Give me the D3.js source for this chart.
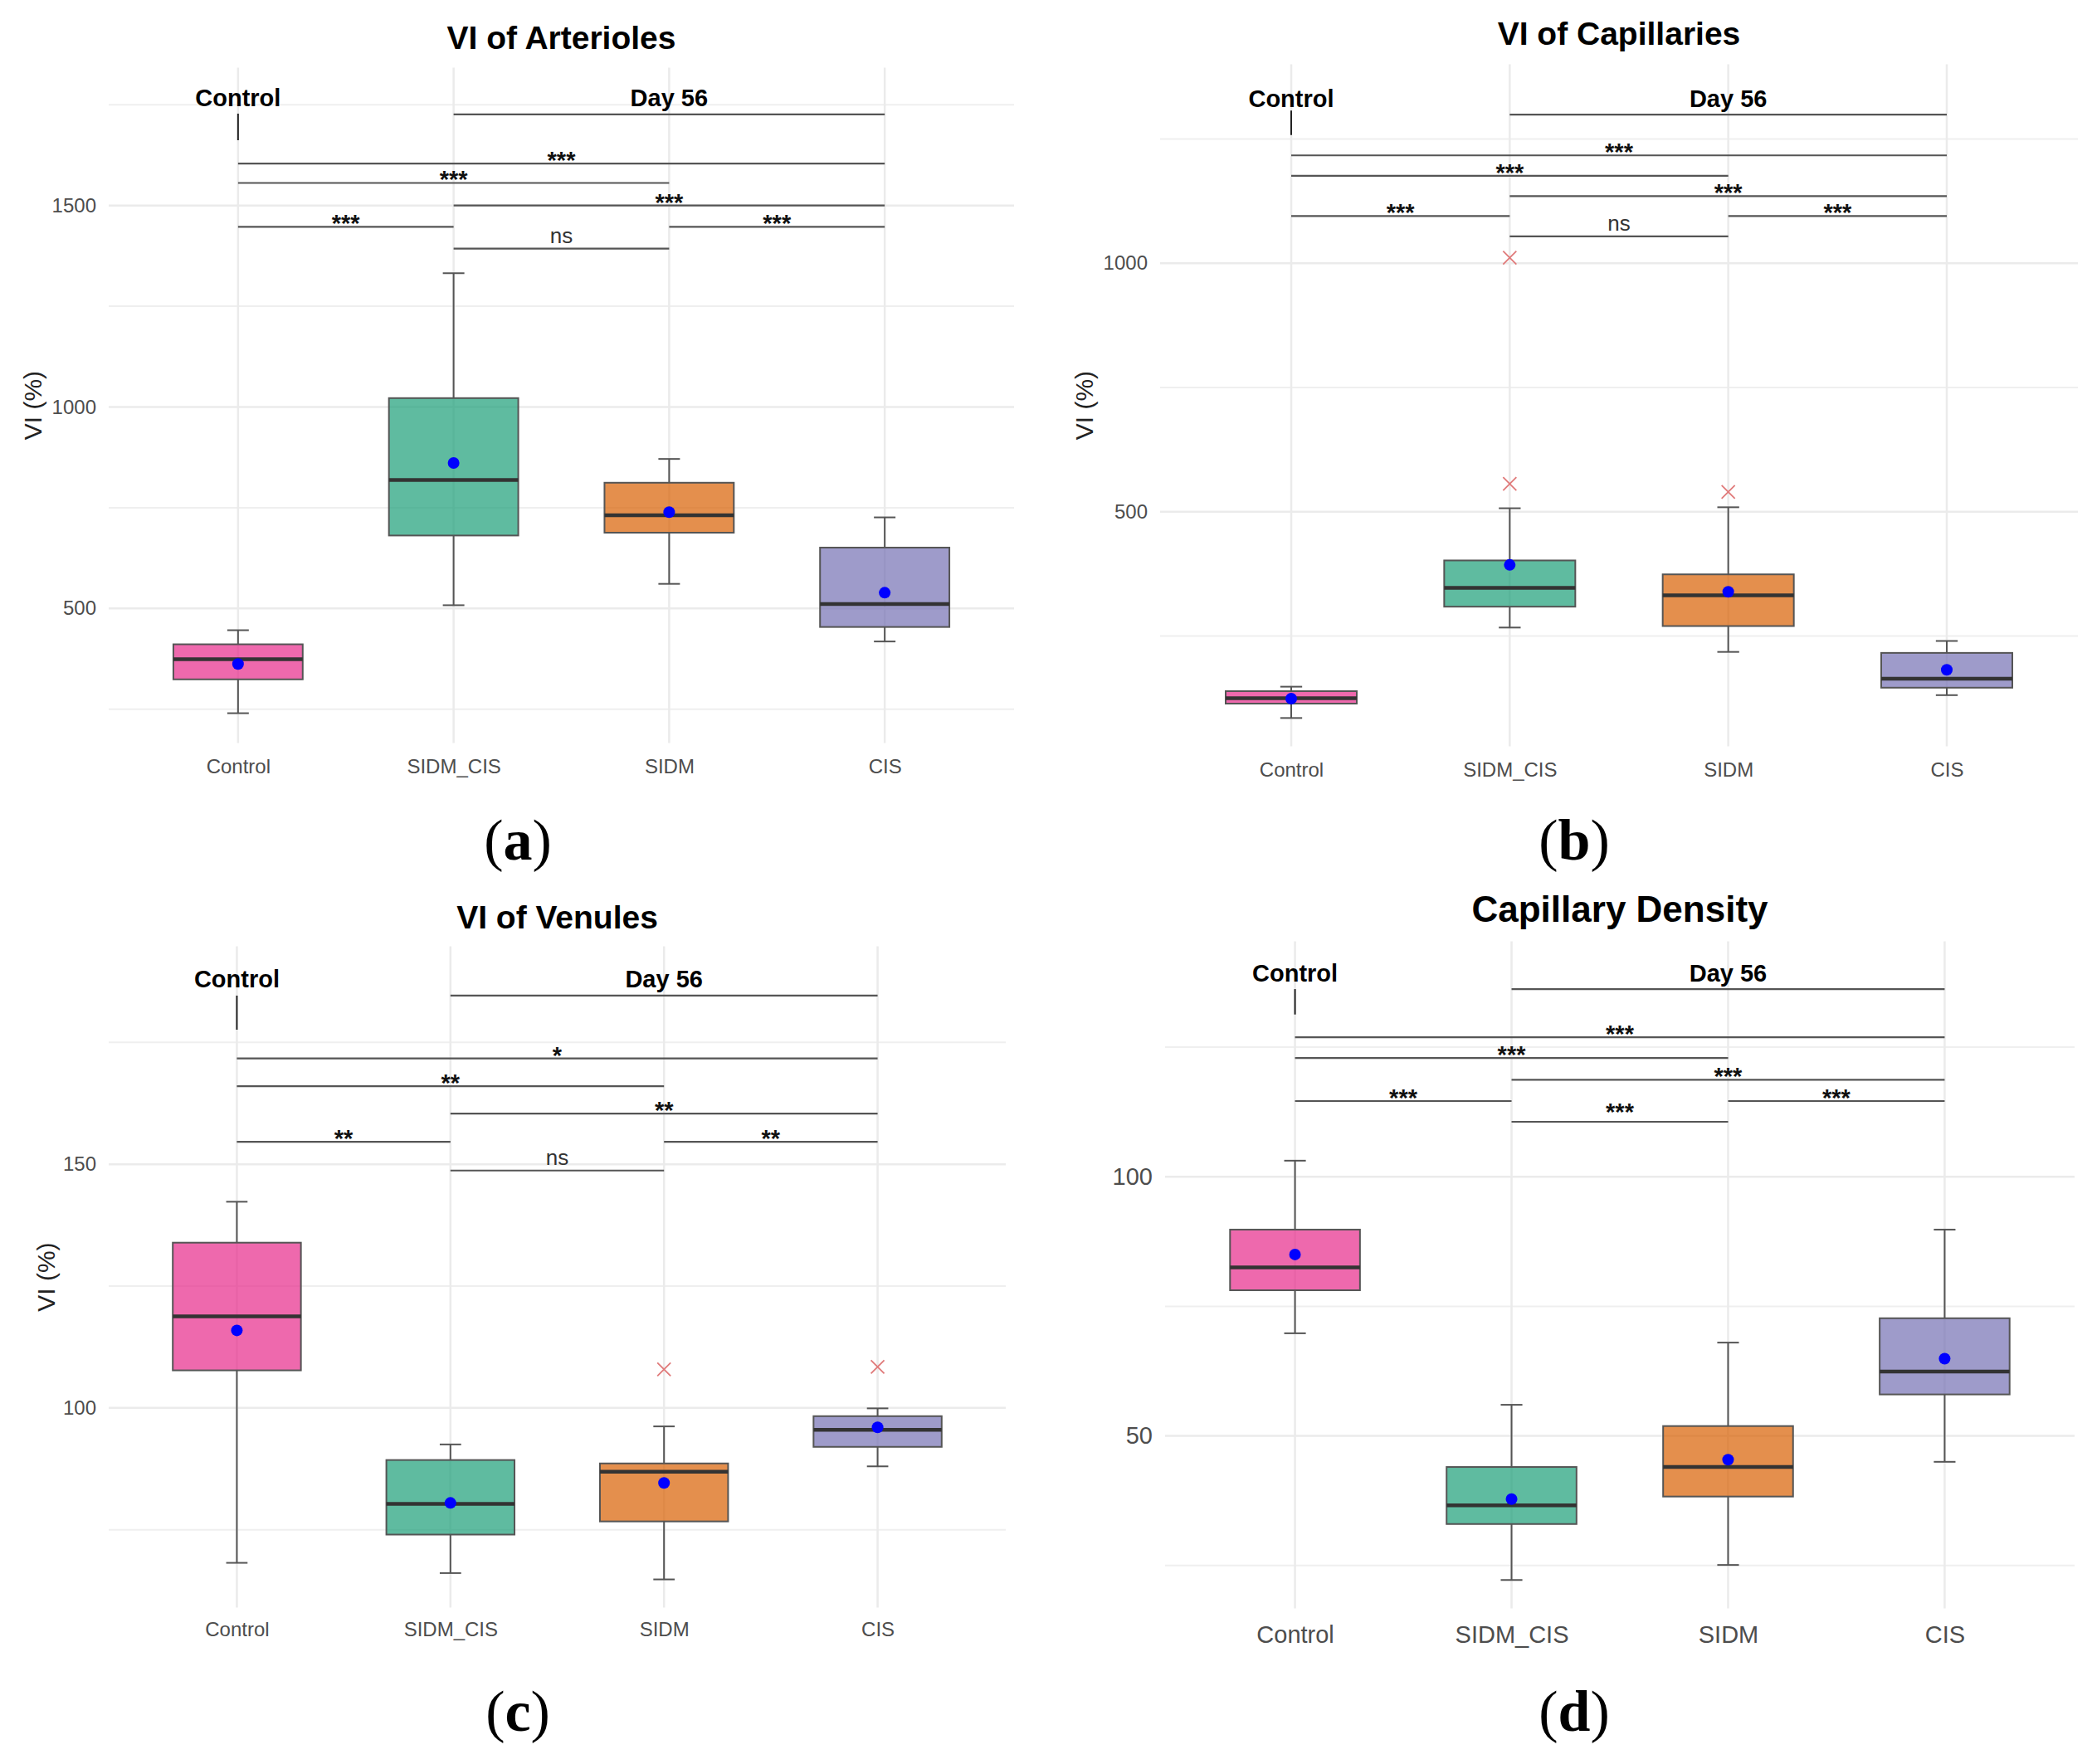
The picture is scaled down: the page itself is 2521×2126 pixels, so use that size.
<!DOCTYPE html>
<html>
<head>
<meta charset="utf-8">
<script src="https://cdn.jsdelivr.net/npm/d3@7"></script>
<style>
  body { margin: 0; background: #fff; }
  svg text { font-family: "Liberation Sans", Arial, Helvetica, sans-serif; }
</style>
</head>
<body>
<svg id="fig" width="2521" height="2126"></svg>
<script>
// groups and fill colours (Dark2, drawn at 70% opacity)
var groups = ["Control", "SIDM_CIS", "SIDM", "CIS"];
var groupColors = ["#E7298A", "#1B9E77", "#D95F02", "#7570B3"];

// box stats per group: [lower whisker, Q1, median, Q3, upper whisker]
var arteriolesBox = [[240, 324, 374, 411, 446], [508, 681, 819, 1022, 1332], [561, 688, 731, 812, 871], [418, 454, 511, 651, 726]];
var arteriolesMean = [362, 861, 739, 539];
var arteriolesOut = [[], [], [], []];
var arteriolesTicks = [500, 1000, 1500];
var arteriolesMinor = [250, 750, 1250, 1750];

var capillariesBox = [[85, 114, 125, 139, 148], [267, 309, 347, 402, 507], [218, 270, 332, 374, 509], [131, 146, 164, 216, 240]];
var capillariesMean = [124, 393, 339, 182];
var capillariesOut = [[], [556, 1011], [540], []];
var capillariesTicks = [500, 1000];
var capillariesMinor = [250, 750, 1250];

var venulesBox = [[68.2, 107.7, 118.8, 133.9, 142.3], [66.1, 74.0, 80.3, 89.3, 92.5], [64.8, 76.7, 86.9, 88.6, 96.2], [88.0, 92.0, 95.5, 98.3, 99.9]];
var venulesMean = [115.9, 80.5, 84.6, 96.0];
var venulesOut = [[], [], [107.9], [108.4]];
var venulesTicks = [100, 150];
var venulesMinor = [75, 125, 175];

var densityBox = [[69.8, 78.1, 82.5, 89.8, 103.1], [22.2, 33.0, 36.6, 44.0, 56.0], [25.1, 38.3, 44.0, 51.9, 68.0], [45.0, 58.0, 62.4, 72.7, 89.8]];
var densityMean = [85.0, 37.8, 45.4, 64.9];
var densityOut = [[], [], [], []];
var densityTicks = [50, 100];
var densityMinor = [25, 75, 125];

// significance brackets: [from, to, level, label]
var arteriolesSig = [["Control", "CIS", 1604, "***"], ["Control", "SIDM", 1556, "***"], ["SIDM_CIS", "CIS", 1500, "***"],
  ["Control", "SIDM_CIS", 1447, "***"], ["SIDM", "CIS", 1447, "***"], ["SIDM_CIS", "SIDM", 1393, "ns"]];
var capillariesSig = [["Control", "CIS", 1217, "***"], ["Control", "SIDM", 1176, "***"], ["SIDM_CIS", "CIS", 1135, "***"],
  ["Control", "SIDM_CIS", 1095, "***"], ["SIDM", "CIS", 1095, "***"], ["SIDM_CIS", "SIDM", 1054, "ns"]];
var venulesSig = [["Control", "CIS", 171.7, "*"], ["Control", "SIDM", 166.0, "**"], ["SIDM_CIS", "CIS", 160.4, "**"],
  ["Control", "SIDM_CIS", 154.6, "**"], ["SIDM", "CIS", 154.6, "**"], ["SIDM_CIS", "SIDM", 148.7, "ns"]];
var densitySig = [["Control", "CIS", 126.9, "***"], ["Control", "SIDM", 122.9, "***"], ["SIDM_CIS", "CIS", 118.7, "***"],
  ["Control", "SIDM_CIS", 114.6, "***"], ["SIDM", "CIS", 114.6, "***"], ["SIDM_CIS", "SIDM", 110.6, "***"]];

// "Day 56" line level, then top and bottom of the Control tick
var arteriolesTime = [1726, 1728, 1662];
var capillariesTime = [1299, 1307, 1258];
var venulesTime = [184.6, 184.6, 177.6];
var densityTime = [136.2, 136.2, 131.3];

var svg = d3.select("#fig");

var panels = [
  {title: "VI of Arterioles", tag: "a", box: arteriolesBox, mean: arteriolesMean, out: arteriolesOut,
   ticks: arteriolesTicks, minor: arteriolesMinor, sig: arteriolesSig, time: arteriolesTime, ytitle: "VI (%)",
   left: 131, right: 1222, top: 81.6, bottom: 895.5, domain: [166, 1842],
   titleY: 58.5, titleSize: 39, tickSize: 24, xSize: 24, xPad: 19, ytitleX: 39, tagX: 624, tagY: 1036},
  {title: "VI of Capillaries", tag: "b", box: capillariesBox, mean: capillariesMean, out: capillariesOut,
   ticks: capillariesTicks, minor: capillariesMinor, sig: capillariesSig, time: capillariesTime, ytitle: "VI (%)",
   left: 1398, right: 2504, top: 77.6, bottom: 899.5, domain: [28, 1400],
   titleY: 54, titleSize: 39, tickSize: 24, xSize: 24, xPad: 19, ytitleX: 1306, tagX: 1897, tagY: 1036},
  {title: "VI of Venules", tag: "c", box: venulesBox, mean: venulesMean, out: venulesOut,
   ticks: venulesTicks, minor: venulesMinor, sig: venulesSig, time: venulesTime, ytitle: "VI (%)",
   left: 131, right: 1212, top: 1140.6, bottom: 1937.6, domain: [59, 194.7],
   titleY: 1118.5, titleSize: 39, tickSize: 24, xSize: 24, xPad: 17, ytitleX: 55, tagX: 624, tagY: 2086},
  {title: "Capillary Density", tag: "d", box: densityBox, mean: densityMean, out: densityOut,
   ticks: densityTicks, minor: densityMinor, sig: densitySig, time: densityTime, ytitle: null,
   left: 1404, right: 2500, top: 1134.6, bottom: 1938.6, domain: [16.7, 145.4],
   titleY: 1110.5, titleSize: 44, tickSize: 29, xSize: 29, xPad: 21, ytitleX: 0, tagX: 1897, tagY: 2086}
];

panels.forEach(drawPanel);

function drawPanel(p) {
  var g = svg.append("g");
  var x = d3.scalePoint().domain(groups).range([p.left, p.right]).padding(0.6);
  var y = d3.scaleLinear().domain(p.domain).range([p.bottom, p.top]);
  var step = x.step(), bw = step * 0.6, cap = step * 0.1;

  // grid
  g.selectAll(".minor").data(p.minor).enter().append("line")
    .attr("x1", p.left).attr("x2", p.right)
    .attr("y1", function(d) { return y(d); }).attr("y2", function(d) { return y(d); })
    .attr("stroke", "#efefef").attr("stroke-width", 2);
  g.selectAll(".major").data(p.ticks).enter().append("line")
    .attr("x1", p.left).attr("x2", p.right)
    .attr("y1", function(d) { return y(d); }).attr("y2", function(d) { return y(d); })
    .attr("stroke", "#ebebeb").attr("stroke-width", 2.5);
  g.selectAll(".vgrid").data(groups).enter().append("line")
    .attr("x1", function(d) { return x(d); }).attr("x2", function(d) { return x(d); })
    .attr("y1", p.top).attr("y2", p.bottom)
    .attr("stroke", "#ebebeb").attr("stroke-width", 2.5);

  // axes
  var ya = g.append("g").attr("transform", "translate(" + p.left + ",0)")
    .call(d3.axisLeft(y).tickValues(p.ticks).tickFormat(d3.format("d")).tickSize(0).tickPadding(15));
  ya.select(".domain").remove();
  ya.attr("font-family", null).attr("font-size", null);
  ya.selectAll("text").attr("font-size", p.tickSize).attr("fill", "#4d4d4d");

  var xa = g.append("g").attr("transform", "translate(0," + p.bottom + ")")
    .call(d3.axisBottom(x).tickSize(0).tickPadding(p.xPad));
  xa.select(".domain").remove();
  xa.attr("font-family", null).attr("font-size", null);
  xa.selectAll("text").attr("font-size", p.xSize).attr("fill", "#4d4d4d");

  // boxes
  var b = g.selectAll(".box").data(p.box).enter().append("g");
  b.append("line").attr("class", "whisker")
    .attr("x1", function(d, i) { return x(groups[i]); }).attr("x2", function(d, i) { return x(groups[i]); })
    .attr("y1", function(d) { return y(d[0]); }).attr("y2", function(d) { return y(d[1]); });
  b.append("line").attr("class", "whisker")
    .attr("x1", function(d, i) { return x(groups[i]); }).attr("x2", function(d, i) { return x(groups[i]); })
    .attr("y1", function(d) { return y(d[3]); }).attr("y2", function(d) { return y(d[4]); });
  b.append("line").attr("class", "whisker")
    .attr("x1", function(d, i) { return x(groups[i]) - cap / 2; }).attr("x2", function(d, i) { return x(groups[i]) + cap / 2; })
    .attr("y1", function(d) { return y(d[0]); }).attr("y2", function(d) { return y(d[0]); });
  b.append("line").attr("class", "whisker")
    .attr("x1", function(d, i) { return x(groups[i]) - cap / 2; }).attr("x2", function(d, i) { return x(groups[i]) + cap / 2; })
    .attr("y1", function(d) { return y(d[4]); }).attr("y2", function(d) { return y(d[4]); });
  b.selectAll(".whisker").attr("stroke", "#555").attr("stroke-width", 2);

  b.append("rect")
    .attr("x", function(d, i) { return x(groups[i]) - bw / 2; })
    .attr("width", bw)
    .attr("y", function(d) { return y(d[3]); })
    .attr("height", function(d) { return y(d[1]) - y(d[3]); })
    .attr("fill", function(d, i) { return groupColors[i]; }).attr("fill-opacity", 0.7)
    .attr("stroke", "#555").attr("stroke-width", 2);
  b.append("line")
    .attr("x1", function(d, i) { return x(groups[i]) - bw / 2; }).attr("x2", function(d, i) { return x(groups[i]) + bw / 2; })
    .attr("y1", function(d) { return y(d[2]); }).attr("y2", function(d) { return y(d[2]); })
    .attr("stroke", "#333").attr("stroke-width", 4.5);

  // outliers as crosses
  p.out.forEach(function(vals, i) {
    g.selectAll(null).data(vals).enter().append("path")
      .attr("d", function(v) {
        var cx = x(groups[i]), cy = y(v), r = 8;
        return "M" + (cx - r) + "," + (cy - r) + "L" + (cx + r) + "," + (cy + r) +
               "M" + (cx - r) + "," + (cy + r) + "L" + (cx + r) + "," + (cy - r);
      })
      .attr("stroke", "#e07a7a").attr("stroke-width", 1.8).attr("fill", "none");
  });

  // means
  g.selectAll(".mean").data(p.mean).enter().append("circle")
    .attr("cx", function(d, i) { return x(groups[i]); })
    .attr("cy", function(d) { return y(d); })
    .attr("r", 7).attr("fill", "#0000ff");

  // significance brackets
  g.selectAll(".sig").data(p.sig).enter().append("line")
    .attr("x1", function(d) { return x(d[0]); }).attr("x2", function(d) { return x(d[1]); })
    .attr("y1", function(d) { return y(d[2]); }).attr("y2", function(d) { return y(d[2]); })
    .attr("stroke", "#555").attr("stroke-width", 2.2);
  g.selectAll(".sigLabel").data(p.sig).enter().append("text")
    .attr("x", function(d) { return (x(d[0]) + x(d[1])) / 2; })
    .attr("y", function(d) {
      var lowest = d[0] === "SIDM_CIS" && d[1] === "SIDM";
      if (d[3] === "ns") return y(d[2]) - 7;
      return y(d[2]) + (lowest ? -2 : 6);
    })
    .attr("text-anchor", "middle")
    .attr("font-size", function(d) { return d[3] === "ns" ? 26 : 29; })
    .attr("font-weight", function(d) { return d[3] === "ns" ? "normal" : "bold"; })
    .attr("fill", function(d) { return d[3] === "ns" ? "#333" : "#111"; })
    .text(function(d) { return d[3]; });

  // time groups
  g.append("line")
    .attr("x1", x("SIDM_CIS")).attr("x2", x("CIS"))
    .attr("y1", y(p.time[0])).attr("y2", y(p.time[0]))
    .attr("stroke", "#555").attr("stroke-width", 2.2);
  g.append("line")
    .attr("x1", x("Control")).attr("x2", x("Control"))
    .attr("y1", y(p.time[1])).attr("y2", y(p.time[2]))
    .attr("stroke", "#222").attr("stroke-width", 2);
  g.selectAll(".timeLabel").data([["Control", "Control"], ["SIDM", "Day 56"]]).enter().append("text")
    .attr("x", function(d) { return x(d[0]); })
    .attr("y", y(p.time[0]) - 9.5)
    .attr("text-anchor", "middle").attr("font-size", 29).attr("font-weight", "bold").attr("fill", "#000")
    .text(function(d) { return d[1]; });

  // titles
  g.append("text")
    .attr("x", (p.left + p.right) / 2).attr("y", p.titleY)
    .attr("text-anchor", "middle").attr("font-size", p.titleSize).attr("font-weight", "bold").attr("fill", "#000")
    .text(p.title);
  if (p.ytitle) {
    g.append("text")
      .attr("transform", "translate(" + p.ytitleX + "," + (p.top + p.bottom) / 2 + ") rotate(-90)")
      .attr("text-anchor", "middle").attr("dominant-baseline", "central")
      .attr("font-size", 30).attr("fill", "#222")
      .text(p.ytitle);
  }
  var tag = g.append("text")
    .attr("x", p.tagX).attr("y", p.tagY)
    .attr("text-anchor", "middle").attr("font-size", 70).attr("fill", "#000")
    .style("font-family", "'Liberation Serif', 'Times New Roman', serif");
  tag.append("tspan").text("(");
  tag.append("tspan").attr("font-weight", "bold").text(p.tag);
  tag.append("tspan").text(")");
}
</script>
</body>
</html>
